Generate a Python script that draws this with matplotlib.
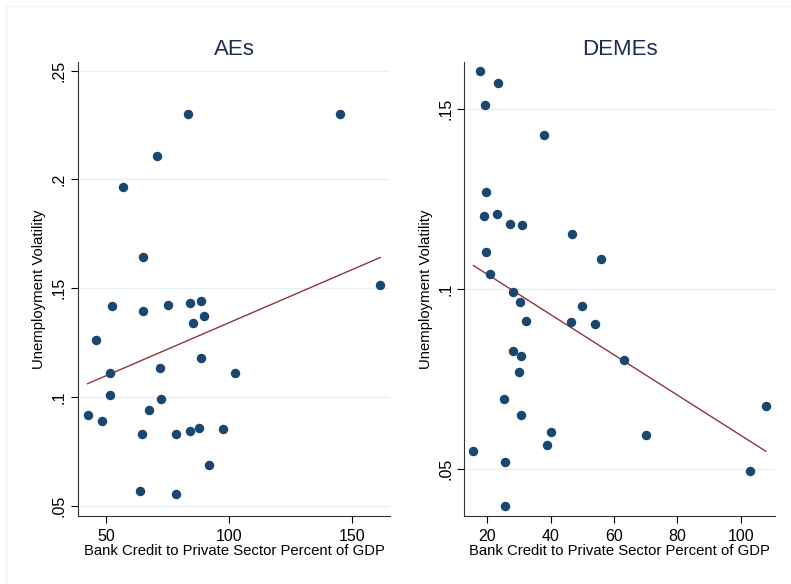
import numpy as np
import matplotlib
matplotlib.use("Agg")
import matplotlib.pyplot as plt
from matplotlib.patches import Rectangle

# AEs : credit bancaire (% PIB) vs volatilité du chômage
ae_credit = [83.5, 145.0, 70.9, 56.9, 64.9, 161.4,
             52.4, 65.2, 46.1, 75.1, 84.1, 88.5, 85.4, 89.8, 88.5, 71.8,
             51.5, 102.3, 51.5, 72.2, 67.5, 42.5, 48.4, 64.8, 78.3, 84.0,
             87.8, 97.7, 91.7, 63.8, 78.3]
ae_vol = [0.230, 0.230, 0.2107, 0.1966, 0.1646, 0.1515,
          0.1417, 0.1397, 0.1264, 0.1423, 0.1433, 0.1443, 0.1339, 0.1373, 0.1180, 0.1136,
          0.1111, 0.1111, 0.1011, 0.0992, 0.0941, 0.0920, 0.0892, 0.0831, 0.0831, 0.0846,
          0.0857, 0.0854, 0.0690, 0.0570, 0.0555]

# DEMEs
de_credit = [17.7, 23.5, 19.2, 37.9, 19.5, 19.1, 23.2, 27.3, 30.8, 46.6, 55.8,
             19.7, 20.7, 28.2, 30.2, 32.3, 46.5, 49.9, 54.1, 28.1, 30.6, 29.9,
             63.2, 25.4, 30.7, 107.9, 40.2, 38.9, 70.0, 15.6, 25.6, 102.9, 25.5]
de_vol = [0.1607, 0.1573, 0.1511, 0.1427, 0.1269, 0.1204, 0.1209, 0.1182, 0.1179, 0.1154, 0.1085,
          0.1103, 0.1042, 0.0993, 0.0964, 0.0911, 0.0908, 0.0953, 0.0903, 0.0829, 0.0814, 0.0771,
          0.0803, 0.0694, 0.0651, 0.0676, 0.0602, 0.0567, 0.0595, 0.0551, 0.0519, 0.0494, 0.0397]

ae_yticks = [0.05, 0.1, 0.15, 0.2, 0.25]
ae_ylabels = [".05", ".1", ".15", ".2", ".25"]
ae_xticks = [50, 100, 150]
de_yticks = [0.05, 0.1, 0.15]
de_ylabels = [".05", ".1", ".15"]
de_xticks = [20, 40, 60, 80, 100]

plt.rcParams["font.family"] = ["Liberation Sans", "DejaVu Sans"]
navy = "#1a476f"
maroon = "#90353b"

fig = plt.figure(figsize=(7.91, 5.84), dpi=100)
fig.add_artist(Rectangle((6 / 791, -1), 2, 1 + 578 / 584, transform=fig.transFigure,
                         fill=False, edgecolor="#eef3f4", linewidth=1))

panels = [
    ("AEs", ae_credit, ae_vol, ae_xticks, ae_yticks, ae_ylabels,
     (38.6, 165.4), (0.0454, 0.2541), [78 / 791, 0.1164, 312 / 791, 0.778]),
    ("DEMEs", de_credit, de_vol, de_xticks, de_yticks, de_ylabels,
     (12.74, 110.8), (0.037, 0.1632), [464.3 / 791, 0.1164, 310.7 / 791, 0.778]),
]

for titre, x, y, xt, yt, ylab, xl, yl, rect in panels:
    ax = fig.add_axes(rect)
    x, y = np.array(x), np.array(y)
    ax.set_axisbelow(True)
    ax.grid(axis="y", color="#e6eff1", linewidth=1)
    ax.plot(x, y, "o", color=navy, markersize=5.8, linestyle="none", zorder=3)
    b, a = np.polyfit(x, y, 1)
    xs = np.array([x.min(), x.max()])
    ax.plot(xs, a + b * xs, color=maroon, linewidth=1.0, zorder=2)
    ax.set_xlim(*xl); ax.set_ylim(*yl)
    ax.set_xticks(xt)
    ax.set_yticks(yt, ylab)
    ax.tick_params(axis="y", labelrotation=90, length=5, width=0.8, labelsize=11.5, pad=3)
    ax.tick_params(axis="x", length=5, width=0.8, labelsize=11.5, pad=4)
    for lab in ax.get_yticklabels():
        lab.set_va("center")
    for s in ["top", "right"]:
        ax.spines[s].set_visible(False)
    for s in ["left", "bottom"]:
        ax.spines[s].set_color("#333333"); ax.spines[s].set_linewidth(0.8)
    ax.set_title(titre, fontsize=16, color="#1e2b55", pad=5)
    ax.set_xlabel("Bank Credit to Private Sector Percent of GDP", fontsize=10.7, labelpad=0)
    ax.set_ylabel("Unemployment Volatility", fontsize=10.7, labelpad=4)

fig.savefig("out.png", dpi=100)
